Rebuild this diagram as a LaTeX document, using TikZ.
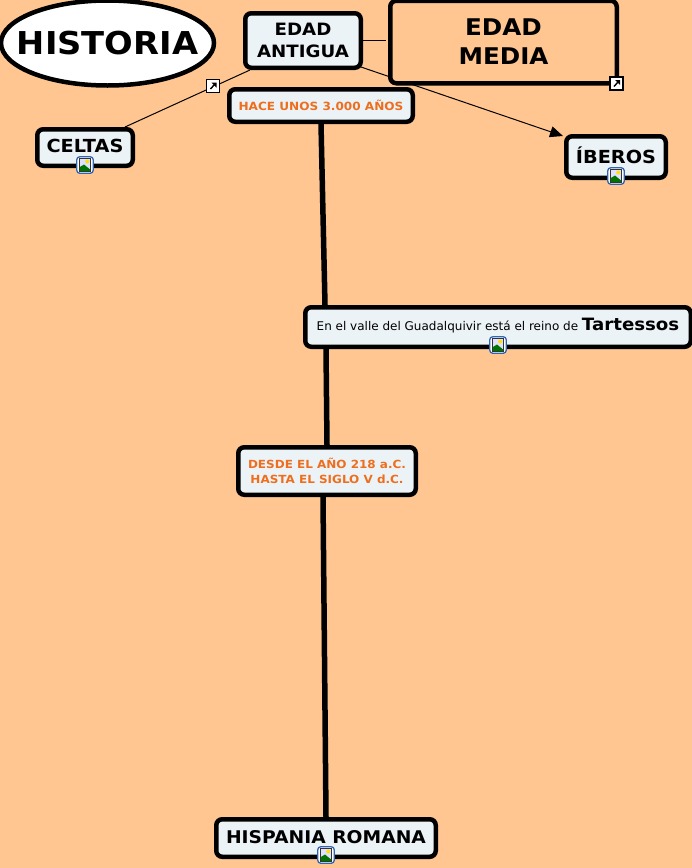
\documentclass[tikz,border=0pt]{standalone}
\usepackage{fontspec}
\setmainfont{DejaVu Sans}[BoldFeatures={FakeStretch=1.07}]
\usetikzlibrary{shapes.geometric,calc,backgrounds,arrows.meta}
\definecolor{pagebg}{RGB}{255,198,146}
\definecolor{boxfill}{RGB}{236,243,247}
\definecolor{dateorange}{RGB}{238,110,30}
\definecolor{iconblue}{RGB}{50,100,180}
\tikzset{
  x=1pt,y=-1pt,
  concept/.style={draw=black,line width=4.5pt,rounded corners=6pt,fill=boxfill,align=center,inner sep=0pt,font=\bfseries,text=black},
  dated/.style={concept,text=dateorange},
  thinlink/.style={draw=black,line width=1pt},
  thicklink/.style={draw=black,line width=5.5pt},
  imgframe/.style={draw=iconblue,line width=1.3pt,rounded corners=3pt,fill=white,minimum width=16.5pt,minimum height=16.5pt,inner sep=0pt},
  linkbox/.style={draw=black,line width=1.2pt,fill=white,minimum width=13pt,minimum height=13pt,inner sep=0pt},
}
\newcommand{\imgicon}[2]{%
  \node[imgframe] (#1) at #2 {};
  \begin{scope}[shift={#2}]
    \draw[black!80,line width=.7pt,fill=blue!12] (-5.5,-6.5) rectangle (5.5,6.5);
    \fill[green!45!black] (-5.1,6.1) -- (-5.1,2) -- (-1,-0.5) -- (5.1,4.5) -- (5.1,6.1) -- cycle;
    \fill[yellow!85!orange] (2.2,-3.5) circle (2);
  \end{scope}}
\newcommand{\linkicon}[2]{%
  \node[linkbox] (#1) at #2 {};
  \begin{scope}[shift={#2}]
    \draw[black,line width=1.4pt] (-2.5,3) -- (1.5,-1.5);
    \fill[black] (-1.5,-3.5) -- (3.5,-3.5) -- (3.5,1.5) -- cycle;
  \end{scope}}
\begin{document}
\begin{tikzpicture}
\useasboundingbox (0,0) rectangle (692,868);
\node[ellipse,draw=black,line width=4.5pt,fill=white,minimum width=213pt,minimum height=85pt,inner sep=0pt,font=\fontsize{31.5}{36}\selectfont\bfseries] (historia) at (107.5,43) {\makebox[0pt]{HISTORIA}};
\node[concept,minimum width=115.5pt,minimum height=54.5pt,font=\fontsize{17}{22}\selectfont\bfseries] (antigua) at (303,40.5) {EDAD\\ANTIGUA};
\node[concept,fill=pagebg,minimum width=226.5pt,minimum height=82.5pt,font=\fontsize{23}{29}\selectfont\bfseries] (media) at (503.5,42) {EDAD\\MEDIA};
\node[dated,minimum width=183.5pt,minimum height=32.5pt,font=\fontsize{11.3}{15}\selectfont\bfseries] (hace) at (321,105.5) {HACE UNOS 3.000 AÑOS};
\node[concept,minimum width=95.5pt,minimum height=36.5pt,font=\fontsize{18}{22}\selectfont\bfseries] (celtas) at (85,147.5) {\raisebox{3pt}{CELTAS}};
\node[concept,minimum width=99.5pt,minimum height=41.5pt,font=\fontsize{18}{22}\selectfont\bfseries] (iberos) at (616,157) {\raisebox{3pt}{ÍBEROS}};
\node[concept,minimum width=385.5pt,minimum height=39.5pt,font=\fontsize{12}{14}\selectfont] (tartessos) at (498,327) {\raisebox{5pt}{\mdseries En el valle del Guadalquivir está el reino de {\fontsize{17}{22}\selectfont\bfseries Tartessos}}};
\node[dated,minimum width=177.5pt,minimum height=47.5pt,font=\fontsize{11.2}{15}\selectfont\bfseries] (desde) at (327,471) {DESDE EL AÑO 218 a.C.\\HASTA EL SIGLO V d.C.};
\node[concept,minimum width=219.5pt,minimum height=37.5pt,font=\fontsize{17.5}{22}\selectfont\bfseries] (hispania) at (326,838) {\raisebox{3pt}{HISPANIA ROMANA}};
\begin{scope}[on background layer]
  \fill[pagebg] (0,0) rectangle (692,868);
  \draw[thinlink,shorten >=2pt] (antigua.east) -- (antigua.east -| media.west);
  \draw[thinlink] ($(antigua.south)+(-53,0)$) -- ($(celtas.north)+(40,0)$);
  \draw[thinlink,-{Triangle[length=13pt,width=11pt]}] ($(antigua.south east)+(-2,-3)$) -- ($(iberos.north west)+(-1,2)$);
  \draw[thicklink] (hace.south) -- ($(tartessos.north)+(-173,0)$);
  \draw[thicklink] ($(tartessos.south)+(-172,0)$) -- (desde.north);
  \draw[thicklink] ($(desde.south)+(-4,0)$) -- (hispania.north);
\end{scope}
\imgicon{iconceltas}{(85,165)}
\imgicon{iconiberos}{(616,176)}
\imgicon{icontartessos}{(498,345)}
\imgicon{iconhispania}{(326,855)}
\linkicon{linkceltas}{(213,86)}
\linkicon{linkmedia}{(616.5,83.5)}
\end{tikzpicture}
\end{document}
